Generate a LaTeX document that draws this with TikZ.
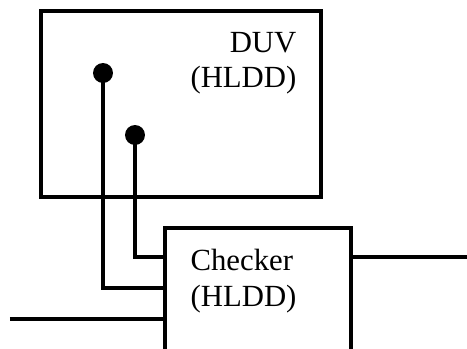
\documentclass[tikz,border=0pt]{standalone}
\usepackage{fontspec}
\setmainfont{Liberation Serif}
\usetikzlibrary{positioning,calc}

\begin{document}
\begin{tikzpicture}[
    box/.style={rectangle,draw,line width=2pt},
    lbl/.style={inner sep=0pt,font=\fontsize{17.5}{20}\selectfont},
    dot/.style={circle,fill,inner sep=0pt,minimum size=0.4cm},
    wire/.style={line width=2pt}]
      \useasboundingbox[clip] (0,0) rectangle (9.34,-6.98);
      \node[box,minimum width=5.6cm,minimum height=3.72cm] (duv) at (3.62,-2.08) {};
      \node[box,minimum width=3.72cm,minimum height=3.4cm] (checker) at (5.16,-6.26) {};
      \node[lbl,align=right,anchor=north east] (duvtext) at ([xshift=-0.52cm,yshift=-0.46cm]duv.north east) {DUV\\(HLDD)};
      \node[lbl,align=left,anchor=north west] (checkertext) at ([xshift=0.54cm,yshift=-0.46cm]checker.north west) {Checker\\(HLDD)};
      
      \node[dot] (p1) at (2.06,-1.46) {};
      \node[dot] (p2) at (2.70,-2.70) {};
      
      \coordinate (cin2) at ([yshift=-0.62cm]checker.north west);
      \coordinate (cin1) at ([yshift=-1.24cm]checker.north west);
      \coordinate (cin3) at ([yshift=-1.86cm]checker.north west);
      \coordinate (cout) at ([yshift=-0.62cm]checker.north east);
      \coordinate (src) at (0.2,0 |- cin3);
      \coordinate (snk) at (9.34,0 |- cout);
      
      \draw[wire] (p1.center) |- (cin1);
      \draw[wire] (p2.center) |- (cin2);
      \draw[wire] (src) -- (cin3);
      \draw[wire] (cout) -- (snk);
    \end{tikzpicture}
\end{document}
